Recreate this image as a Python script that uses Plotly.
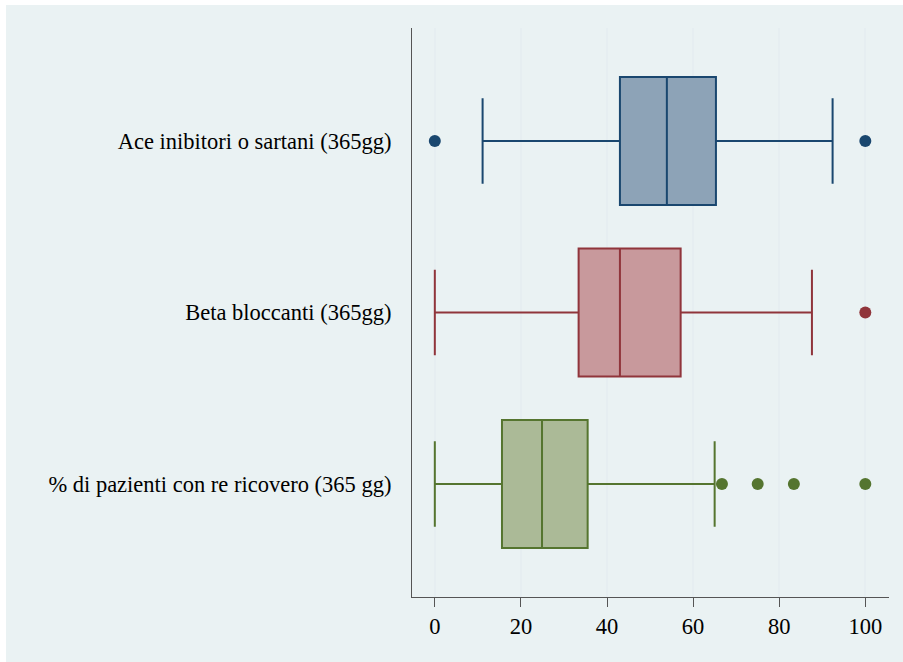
import plotly.graph_objects as go

categories = ["Ace inibitori o sartani (365gg)", "Beta bloccanti (365gg)",
              "% di pazienti con re ricovero (365 gg)"]
q1 = [43.0, 33.4, 15.6]
median = [53.9, 43.0, 24.9]
q3 = [65.3, 57.1, 35.5]
lowerfence = [11.1, 0.0, 0.0]
upperfence = [92.4, 87.6, 65.0]
outliers = [[0.0, 100.0], [100.0], [66.7, 75.0, 83.4, 100.0]]
line_colors = ["#1A476F", "#90353B", "#55752F"]
fill_colors = ["#8DA3B7", "#C8999C", "#ABBA97"]
x_ticks = [0, 20, 40, 60, 80, 100]

fig = go.Figure()
for i, cat in enumerate(categories):
    fig.add_trace(go.Box(
        orientation="h", y=[i], q1=[q1[i]], median=[median[i]], q3=[q3[i]],
        lowerfence=[lowerfence[i]], upperfence=[upperfence[i]],
        width=0.746, whiskerwidth=0.67,
        line=dict(color=line_colors[i], width=2),
        fillcolor=fill_colors[i], boxpoints=False, showlegend=False,
        hoverinfo="skip",
    ))
    fig.add_trace(go.Scatter(
        x=outliers[i], y=[i] * len(outliers[i]), mode="markers",
        marker=dict(color=line_colors[i], size=12, symbol="circle"),
        showlegend=False, hoverinfo="skip", cliponaxis=False,
    ))

W, H = 903, 662
L, R, T, B = 412, 14, 28, 65
pw, ph = W - L - R, H - T - B
fig.add_shape(type="rect", xref="paper", yref="paper", layer="below",
              x0=(6 - L) / pw, x1=(W - L) / pw,
              y0=(H - B - H) / ph, y1=(H - B - 5) / ph,
              fillcolor="#EAF2F3", line=dict(width=0))

font = dict(family="Liberation Serif", size=22.5, color="#000000")
fig.update_layout(
    width=W, height=H, margin=dict(l=L, r=R, t=T, b=B, pad=0),
    paper_bgcolor="#FFFFFF", plot_bgcolor="#FFFFFF", font=font,
    xaxis=dict(range=[-5.3, 105.5], tickvals=x_ticks, ticktext=[str(v) for v in x_ticks],
               showgrid=True, gridcolor="#E6EEF1", gridwidth=1.5, zeroline=False,
               showline=True, linecolor="#555555", linewidth=1.2,
               ticks="outside", ticklen=9, tickcolor="#555555", tickwidth=1.2,
               tickfont=font, mirror=False),
    yaxis=dict(range=[2.659, -0.659], tickvals=[0, 1, 2], ticktext=categories,
               showgrid=False, zeroline=False, showline=True, linecolor="#555555",
               linewidth=1.2, ticks="outside", ticklen=15, tickcolor="rgba(0,0,0,0)",
               tickfont=font),
)
fig.write_html("out.html")
